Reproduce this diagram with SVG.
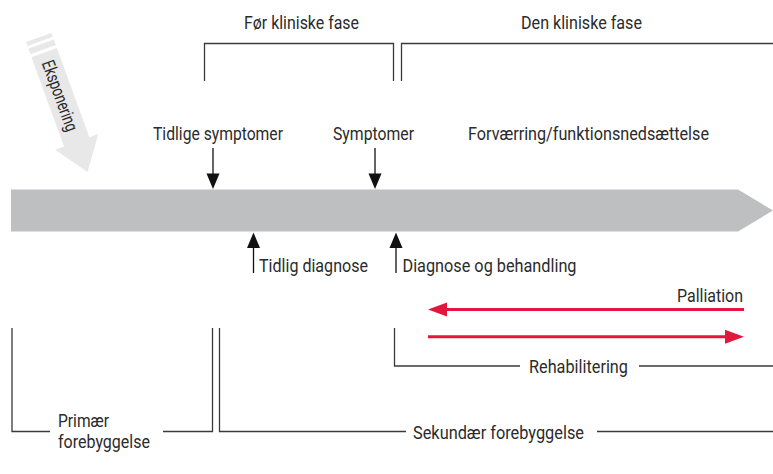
<svg xmlns="http://www.w3.org/2000/svg" width="773" height="474" viewBox="0 0 773 474">
<style>
text{font-family:Roboto,"Liberation Sans",sans-serif;font-size:18px;fill:#2b2b2b;}
.ln{fill:none;stroke:#3a3a3a;stroke-width:1.3;}
.ar{fill:none;stroke:#111;stroke-width:1.3;}
.hd{fill:#111;}
.red{fill:none;stroke:#e3173e;stroke-width:3;}
.rhd{fill:#e3173e;}
</style>
<rect width="773" height="474" fill="#fff"/>
<g id="exposure" transform="translate(38.7,37.5) rotate(70)">
<rect x="0" y="-13.5" width="4" height="27" fill="#e8e8e9"/>
<rect x="7" y="-13.5" width="6" height="27" fill="#e8e8e9"/>
<polygon points="16,-13.5 111,-13.5 111,-23 143,0 111,23 111,13.5 16,13.5" fill="#e8e8e9"/>
<text x="25" y="6" font-size="17" textLength="74" lengthAdjust="spacingAndGlyphs">Eksponering</text>
</g>
<g id="timeline">
<polygon points="11,189.5 738,189.5 773,210.5 738,231.5 11,231.5" fill="#bebfc1"/>
</g>
<g id="pre-clinical">
<path class="ln" d="M204.5,81 V43.5 H393.5 V81"/>
<text x="244" y="29" textLength="115" lengthAdjust="spacingAndGlyphs">Før kliniske fase</text>
</g>
<g id="clinical">
<path class="ln" d="M401.5,81 V43.5 H773"/>
<text x="521" y="29" textLength="121" lengthAdjust="spacingAndGlyphs">Den kliniske fase</text>
</g>
<g id="early-symptoms"><text x="153" y="140" textLength="130" lengthAdjust="spacingAndGlyphs">Tidlige symptomer</text></g>
<g id="symptoms"><text x="333" y="140" textLength="81" lengthAdjust="spacingAndGlyphs">Symptomer</text></g>
<g id="worsening"><text x="468" y="140" textLength="241" lengthAdjust="spacingAndGlyphs">Forværring/funktionsnedsættelse</text></g>
<g id="early-diagnosis"><text x="259" y="272" textLength="109" lengthAdjust="spacingAndGlyphs">Tidlig diagnose</text></g>
<g id="diagnosis"><text x="402.5" y="272" textLength="174" lengthAdjust="spacingAndGlyphs">Diagnose og behandling</text></g>
<g id="palliation"><text x="677" y="302" textLength="66" lengthAdjust="spacingAndGlyphs">Palliation</text></g>
<g id="rehabilitation">
<path class="ln" d="M394.5,328 V366 H520 M639,366 H773"/>
<text x="529" y="372.5" textLength="99" lengthAdjust="spacingAndGlyphs">Rehabilitering</text>
</g>
<g id="primary">
<path class="ln" d="M12,328 V431.5 H50 M163,431.5 H212.5 V328"/>
<text x="58" y="427" textLength="51" lengthAdjust="spacingAndGlyphs">Primær</text>
<text x="58" y="448" textLength="92" lengthAdjust="spacingAndGlyphs">forebyggelse</text>
</g>
<g id="secondary">
<path class="ln" d="M219.5,328 V431.5 H406 M597,431.5 H773"/>
<text x="413" y="438.5" textLength="171" lengthAdjust="spacingAndGlyphs">Sekundær forebyggelse</text>
</g>
<g id="connectors">
<line class="ar" x1="213" y1="148" x2="213" y2="175"/>
<polygon class="hd" points="206.5,173.5 219.5,173.5 213,189"/>
<line class="ar" x1="375" y1="148" x2="375" y2="175"/>
<polygon class="hd" points="368.5,173.5 381.5,173.5 375,189"/>
<line class="ar" x1="253.5" y1="246" x2="253.5" y2="273"/>
<polygon class="hd" points="247,248 260,248 253.5,232.5"/>
<line class="ar" x1="396" y1="246" x2="396" y2="273"/>
<polygon class="hd" points="389.5,248 402.5,248 396,232.5"/>
<line class="red" x1="744" y1="309.5" x2="445" y2="309.5"/>
<polygon class="rhd" points="428,309.5 447,302.5 447,316.5"/>
<line class="red" x1="428" y1="336.7" x2="727" y2="336.7"/>
<polygon class="rhd" points="744,336.7 725,329.7 725,343.7"/>
</g>
</svg>
